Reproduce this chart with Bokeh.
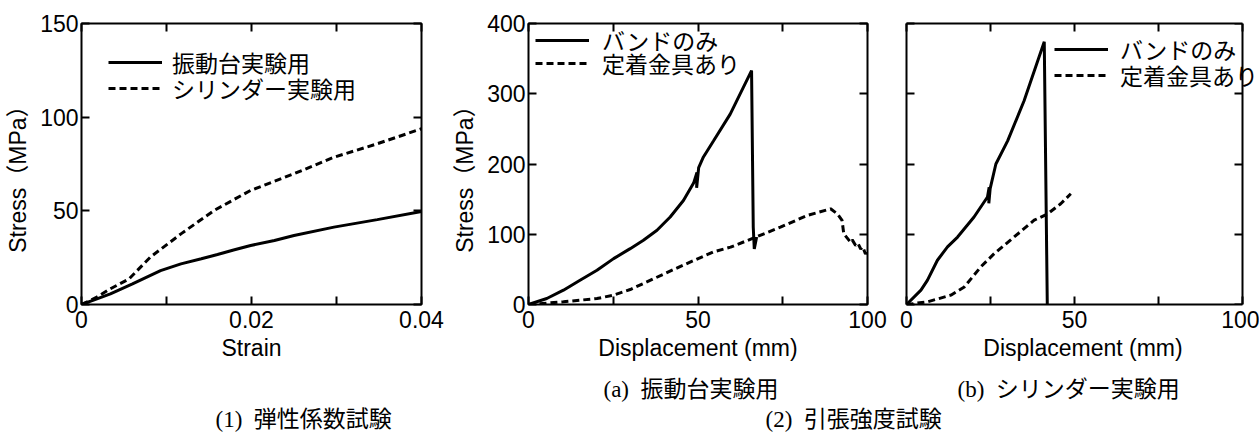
from bokeh.plotting import figure
from bokeh.models import (FixedTicker, LinearAxis, Legend, LegendItem, Label, Range1d)
from bokeh.layouts import row, column
from bokeh.embed import file_html
from bokeh.resources import INLINE

# ---------------- data ----------------
# (1) elastic modulus test: strain vs stress (MPa)
e_shake_strain = [0, 0.0015, 0.0034, 0.006, 0.0093, 0.0117, 0.0141, 0.016, 0.018, 0.0199, 0.0227,
                  0.025, 0.0297, 0.0348, 0.04]
e_shake_stress = [0, 2.5, 5.7, 11.0, 18.1, 21.7, 24.4, 26.7, 29.2, 31.5, 34.2,
                  36.8, 41.3, 45.3, 49.6]
e_cyl_strain = [0, 0.0018, 0.0034, 0.0056, 0.0081, 0.0117, 0.0156, 0.0199, 0.025, 0.0297, 0.0348, 0.04]
e_cyl_stress = [0, 3.9, 8.4, 13.7, 25.3, 37.7, 50.2, 60.9, 69.8, 78.6, 85.8, 93.8]

# (2)(a) tensile test, shaking-table specimens: displacement (mm) vs stress (MPa)
a_band_disp = [0, 5.4, 10.3, 15.2, 20.2, 25.1, 30.0, 33.9, 37.9, 41.8, 45.7, 48.7, 49.7, 49.6,
               50.2, 51.6, 54.6, 59.5, 65.8, 66.3, 66.6, 67.3]
a_band_stress = [0, 8.5, 20.4, 34.6, 48.8, 65.3, 79.5, 91.4, 105.6, 124.5, 148, 172.8, 188, 166,
                 195, 210, 233, 271, 333, 110, 79, 96]
a_anch_disp = [0, 10.3, 20.2, 25.1, 30.0, 34.9, 44.7, 54.6, 59.6, 67.0, 74.3, 82.2, 89.1, 91.1,
               92.5, 93.0, 95.0, 95.5, 96.5, 97.2, 98.0, 98.6, 99.4, 100]
a_anch_stress = [0, 3.8, 8.5, 13.3, 21.3, 32.2, 54, 75, 81.6, 95.8, 110, 126.7, 136.2, 129,
                 119.6, 100.6, 88.7, 92, 84, 87, 79, 82, 72, 76]

# (2)(b) tensile test, cylinder specimens
b_band_disp = [0, 4.3, 6.25, 9.2, 12.2, 15.2, 20.1, 24.1, 24.6, 24.5, 24.9, 26.6, 30.1, 35.0, 41.0, 41.9]
b_band_stress = [0, 20.4, 34.6, 63, 82, 96, 124.5, 153, 167, 144, 165, 200, 233, 290, 374, 0]
b_anch_disp = [0, 6.25, 13.2, 17.2, 22.1, 26.1, 32.0, 38.0, 42.0, 45.9, 48.9]
b_anch_stress = [0, 3.8, 13.3, 25, 53.5, 72.4, 96, 120, 129, 143.4, 157.6]

legend1_labels = ["振動台実験用", "シリンダー実験用"]
legend2_labels = ["バンドのみ", "定着金具あり"]

x1_ticks = [0, 0.02, 0.04]
x1_minor = [0.01, 0.03]
x1_tick_labels = ["0", "0.02", "0.04"]
y1_ticks = [0, 50, 100, 150]
x2_ticks = [0, 50, 100]
x2_minor = [25, 75]
y2_ticks = [0, 100, 200, 300, 400]

captions_top = ["(a)\u00a0\u00a0振動台実験用", "(b)\u00a0\u00a0シリンダー実験用"]
captions_bottom = ["(1)\u00a0\u00a0弾性係数試験", "(2)\u00a0\u00a0引張強度試験"]

SANS = "Liberation Sans, Noto Sans CJK JP"
CJK = "Noto Sans CJK JP"
SERIF = "Liberation Serif, Noto Sans CJK JP"
FS = "23px"
H = 370
YLABEL = "Stress（MPa）\u00a0\u00a0\u00a0"


def make_fig(width, bl, br, xr, yr, outline=True):
    p = figure(width=width, height=H, x_range=Range1d(*xr), y_range=Range1d(*yr),
               output_backend="svg", toolbar_location=None,
               min_border_left=bl, min_border_right=br, min_border_top=23, min_border_bottom=66,
               x_axis_location=None, y_axis_location=None)
    p.xgrid.visible = False
    p.ygrid.visible = False
    p.outline_line_color = "black" if outline else None
    p.outline_line_width = 2
    p.background_fill_color = None
    p.border_fill_color = None
    return p


def style_axis(ax, show_labels, line=False):
    ax.axis_line_color = "black" if line else None
    ax.axis_line_width = 2
    ax.major_tick_in = 8
    ax.major_tick_out = 0
    ax.minor_tick_in = 8
    ax.minor_tick_out = 0
    ax.major_tick_line_width = 2
    ax.minor_tick_line_width = 2
    ax.major_tick_line_color = "black"
    ax.minor_tick_line_color = "black"
    ax.major_label_text_font = SANS
    ax.major_label_text_color = "black"
    ax.major_label_text_font_size = FS if show_labels else "10px"
    ax.axis_label_text_font = SANS
    ax.axis_label_text_font_size = FS
    ax.axis_label_text_font_style = "normal"
    ax.axis_label_text_color = "black"


def add_axes(p, xt, xm, xlabels, yt, ylabels, xlabel, ylabel, show_y, lines=False, xbounds=None,
             right_at=None):
    xo = {t: l for t, l in zip(xt, xlabels)}
    yo = {t: (l if show_y else "") for t, l in zip(yt, ylabels)}
    blank_x = {t: "" for t in xt}
    blank_y = {t: "" for t in yt}
    bx = LinearAxis(ticker=FixedTicker(ticks=xt, minor_ticks=xm), axis_label=xlabel,
                    major_label_overrides=xo)
    style_axis(bx, True, lines)
    bx.major_label_standoff = 6
    bx.axis_label_standoff = 4
    if xbounds:
        bx.bounds = xbounds
    p.add_layout(bx, "below")
    ly = LinearAxis(ticker=FixedTicker(ticks=yt, minor_ticks=[]), major_label_overrides=yo)
    if ylabel:
        ly.axis_label = ylabel
    style_axis(ly, show_y, lines)
    ly.major_label_standoff = 3 if show_y else 0
    ly.axis_label_standoff = 6
    p.add_layout(ly, "left")
    tx = LinearAxis(ticker=FixedTicker(ticks=xt, minor_ticks=xm), major_label_overrides=blank_x)
    style_axis(tx, False, lines)
    tx.major_label_standoff = 0
    if xbounds:
        tx.bounds = xbounds
    p.add_layout(tx, "above")
    ry = LinearAxis(ticker=FixedTicker(ticks=yt, minor_ticks=[]), major_label_overrides=blank_y)
    style_axis(ry, False, lines)
    ry.major_label_standoff = 0
    if right_at is not None:
        ry.fixed_location = right_at
    p.add_layout(ry, "right")


def add_legend(p, r, label, loc, standoff):
    lg = Legend(items=[LegendItem(label=label, renderers=[r])], location=loc, padding=0, margin=0,
                spacing=0, glyph_width=54, glyph_height=20, label_height=20, label_standoff=standoff,
                label_text_font=CJK, label_text_font_size="23px", label_text_color="black",
                background_fill_alpha=0, border_line_color=None)
    p.add_layout(lg)


# ---------- (1) ----------
p1 = make_fig(445, 81, 24, (0, 0.04), (0, 150))
add_axes(p1, x1_ticks, x1_minor, x1_tick_labels, y1_ticks, [str(v) for v in y1_ticks],
         "Strain", YLABEL, True)
r11 = p1.line(e_shake_strain, e_shake_stress, line_color="black", line_width=3)
r12 = p1.line(e_cyl_strain, e_cyl_stress, line_color="black", line_width=3, line_dash="7 4")
add_legend(p1, r11, legend1_labels[0], (27, 225), 10)
add_legend(p1, r12, legend1_labels[1], (27, 199), 10)

# ---------- (2a) ----------
p2 = make_fig(445, 83, 23, (0, 100), (0, 400))
add_axes(p2, x2_ticks, x2_minor, [str(v) for v in x2_ticks], y2_ticks, [str(v) for v in y2_ticks],
         "Displacement (mm)", YLABEL, True)
r21 = p2.line(a_band_disp, a_band_stress, line_color="black", line_width=3)
r22 = p2.line(a_anch_disp, a_anch_stress, line_color="black", line_width=3, line_dash="7 4")
add_legend(p2, r21, legend2_labels[0], (7, 247), 13)
add_legend(p2, r22, legend2_labels[1], (7, 224), 13)

# ---------- (2b) ----------
# frame extended to the right edge so the legend text can run past the x = 100 border
P3_W, P3_BL, P3_BR = 369, 16, 0
p3_xend = 100 * (P3_W - P3_BL - P3_BR) / 336
p3 = make_fig(P3_W, P3_BL, P3_BR, (0, p3_xend), (0, 400), outline=False)
add_axes(p3, x2_ticks, x2_minor, [str(v) for v in x2_ticks], y2_ticks, [str(v) for v in y2_ticks],
         "Displacement (mm)", None, False, lines=True, xbounds=(0, 100), right_at=100)
r31 = p3.line(b_band_disp, b_band_stress, line_color="black", line_width=3)
r32 = p3.line(b_anch_disp, b_anch_stress, line_color="black", line_width=3, line_dash="7 4")
add_legend(p3, r31, legend2_labels[0], (148, 238), 12)
add_legend(p3, r32, legend2_labels[1], (148, 212), 12)

# ---------- captions ----------
pc = figure(width=1259, height=65, x_range=Range1d(0, 1259), y_range=Range1d(65, 0),
            output_backend="svg", toolbar_location=None, min_border=0,
            x_axis_type=None, y_axis_type=None)
pc.xgrid.visible = False
pc.ygrid.visible = False
pc.outline_line_color = None
pc.background_fill_color = None
pc.border_fill_color = None
for txt, x, y in [(captions_top[0], 603, 19), (captions_top[1], 957, 19),
                  (captions_bottom[0], 215, 49), (captions_bottom[1], 765, 49)]:
    pc.add_layout(Label(x=x, y=y, text=txt, text_font=SERIF, text_font_size="23px",
                        text_align="left", text_baseline="middle", text_color="black"))

layout = column(row(p1, p2, p3), pc)
open("out.html", "w").write(file_html(layout, INLINE))
